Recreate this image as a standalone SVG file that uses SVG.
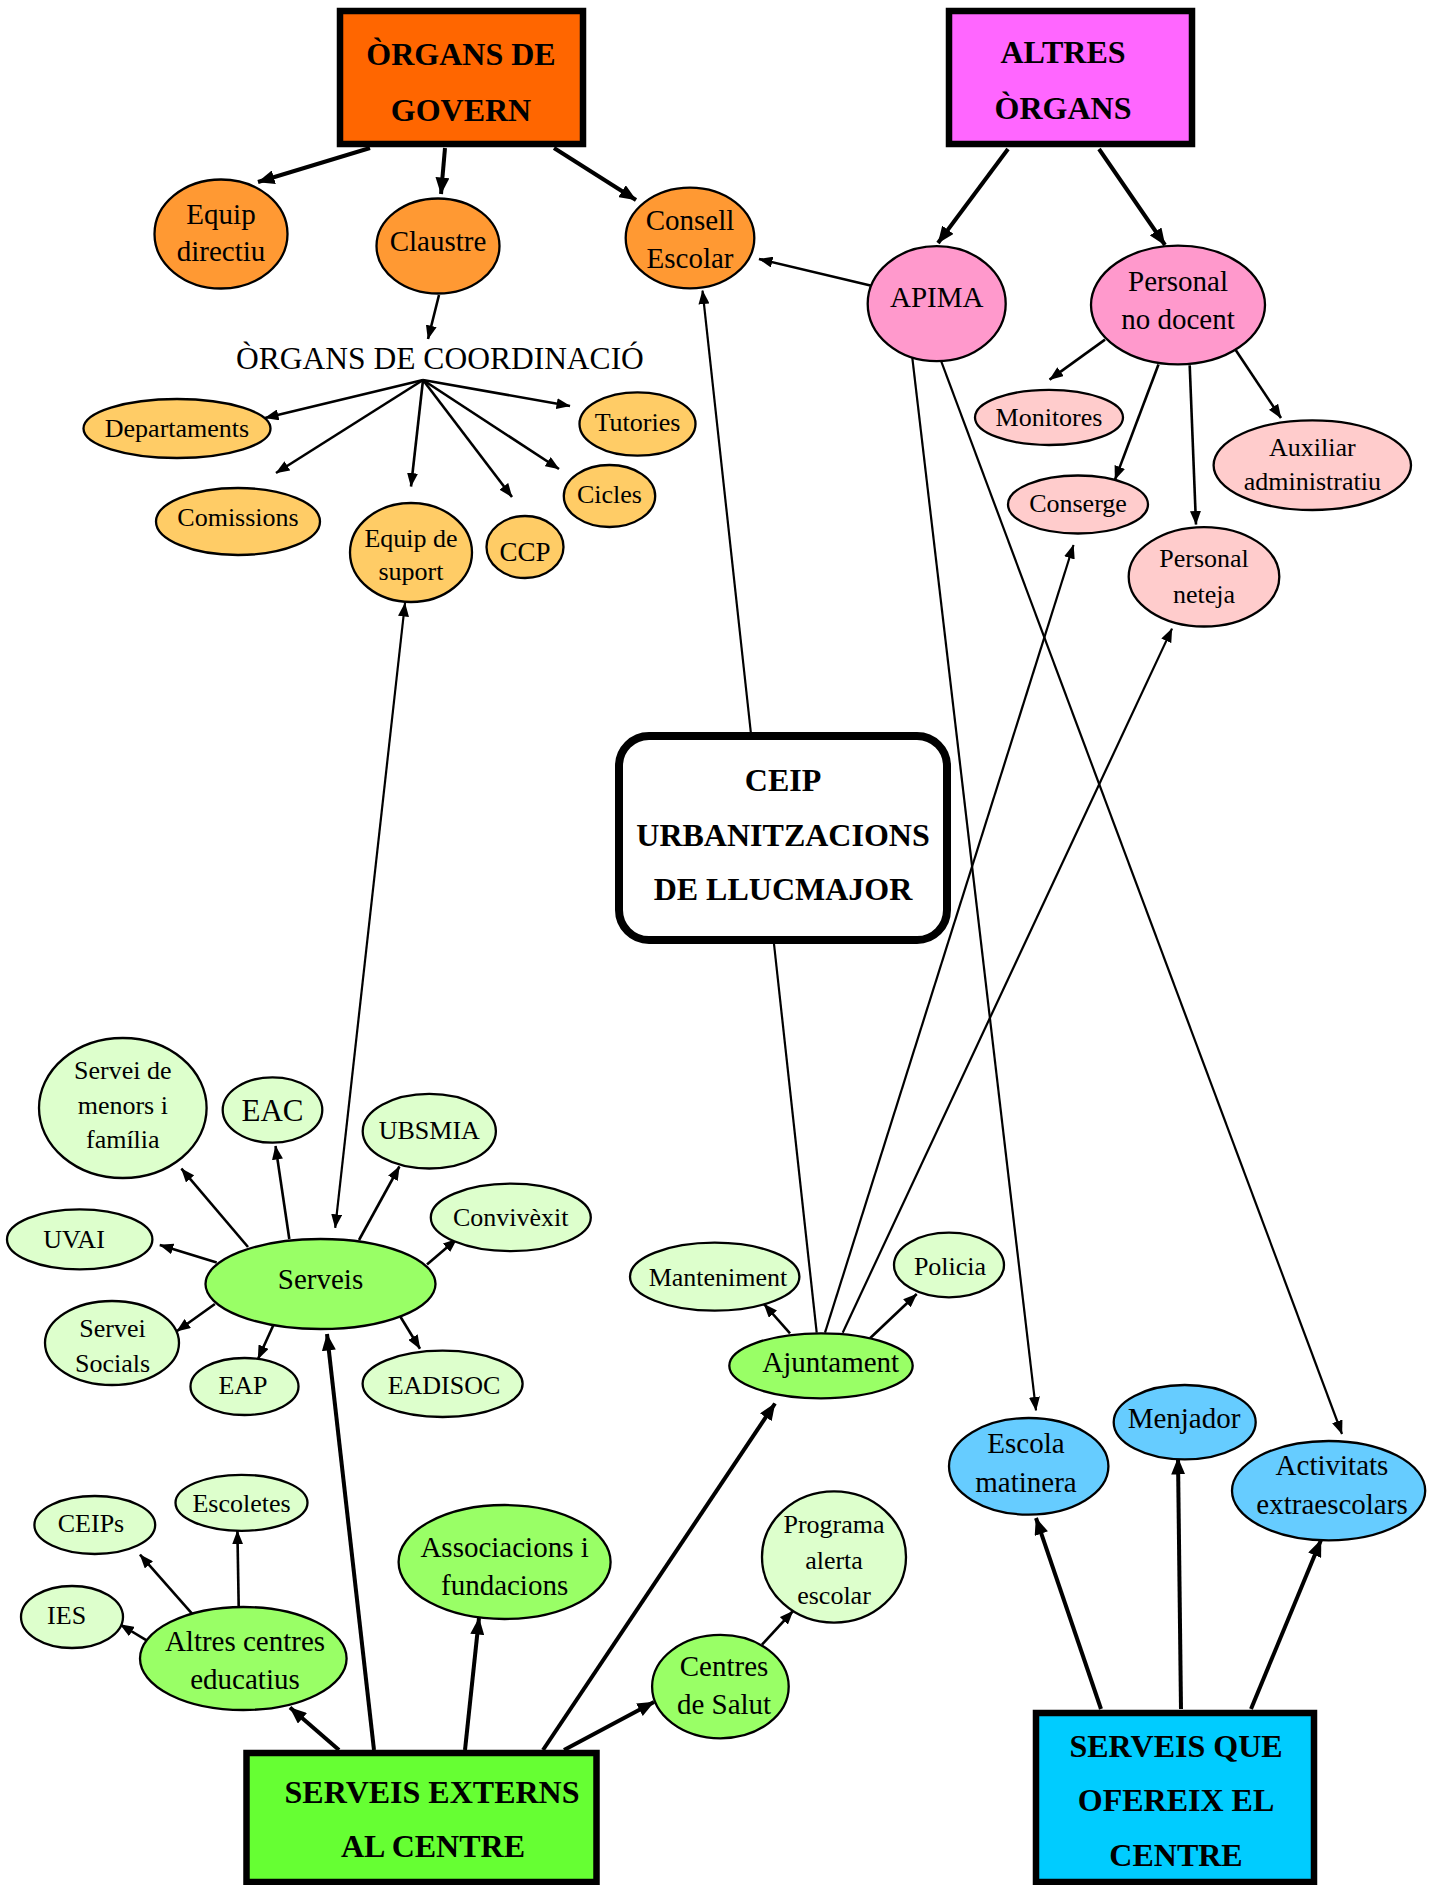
<svg xmlns="http://www.w3.org/2000/svg" width="1438" height="1885" viewBox="0 0 1438 1885">
<style>
.t{font-family:"Liberation Serif","Times New Roman",serif;text-anchor:middle;fill:#000}
.b{font-weight:bold;font-size:32px}
.s26{font-size:26px}
.s29{font-size:29px}
.s31{font-size:31px}
.n{stroke:#000;stroke-width:2.3}
.box{stroke:#000;stroke-width:6.5}
.c{stroke:#000;fill:none}
.thick{stroke-width:4}
.med{stroke-width:2.6}
.thin{stroke-width:2.2}
.o1{fill:#FF9933}.o2{fill:#FFCC66}.p1{fill:#FF99CC}.p2{fill:#FFCCCC}
.g1{fill:#99FF66}.g2{fill:#DDFFCC}.bl{fill:#66CCFF}
</style>
<defs>
<marker id="ah" viewBox="0 0 14 11" refX="13.5" refY="5.5" markerWidth="14" markerHeight="11" markerUnits="userSpaceOnUse" orient="auto"><path d="M0,0 L14,5.5 L0,11 z" fill="#000"/></marker>
<marker id="ahL" viewBox="0 0 17 14" refX="16.5" refY="7" markerWidth="17" markerHeight="14" markerUnits="userSpaceOnUse" orient="auto"><path d="M0,0 L17,7 L0,14 z" fill="#000"/></marker>
<marker id="ahS" viewBox="0 0 14 11" refX="13.5" refY="5.5" markerWidth="14" markerHeight="11" markerUnits="userSpaceOnUse" orient="auto-start-reverse"><path d="M0,0 L14,5.5 L0,11 z" fill="#000"/></marker>
</defs>
<rect width="1438" height="1885" fill="#fff"/>
<g id="connectors">
<g class="c thick" marker-end="url(#ahL)">
<line x1="370" y1="148" x2="258" y2="182"/>
<line x1="445" y1="148" x2="441" y2="194"/>
<line x1="554" y1="148" x2="636" y2="200"/>
<line x1="1008" y1="149" x2="938" y2="243"/>
<line x1="1099" y1="149" x2="1165" y2="245"/>
<line x1="339" y1="1750" x2="290" y2="1707.5"/>
<line x1="374" y1="1750" x2="327" y2="1334"/>
<line x1="465" y1="1750" x2="479" y2="1618"/>
<line x1="543" y1="1750" x2="775" y2="1403.5"/>
<line x1="564" y1="1750" x2="654" y2="1702"/>
<line x1="1101" y1="1709" x2="1036" y2="1518"/>
<line x1="1181" y1="1709" x2="1178" y2="1458"/>
<line x1="1251" y1="1709" x2="1321" y2="1540"/>
</g>
<g class="c med" marker-end="url(#ah)">
<line x1="439" y1="295" x2="428" y2="339"/>
<line x1="423" y1="380" x2="265" y2="418"/>
<line x1="423" y1="380" x2="276" y2="473"/>
<line x1="423" y1="380" x2="411" y2="486.5"/>
<line x1="423" y1="380" x2="512" y2="497"/>
<line x1="423" y1="380" x2="559" y2="469"/>
<line x1="423" y1="380" x2="570" y2="406"/>
<line x1="871.5" y1="285.7" x2="759" y2="259"/>
<line x1="1105" y1="339.6" x2="1049.6" y2="379.6"/>
<line x1="1158.5" y1="364.5" x2="1115" y2="479.6"/>
<line x1="1189.7" y1="365.3" x2="1196" y2="524.5"/>
<line x1="1235" y1="349" x2="1281" y2="418"/>
<line x1="248" y1="1247" x2="181.4" y2="1168.6"/>
<line x1="289.3" y1="1239" x2="275.5" y2="1146"/>
<line x1="359" y1="1240" x2="399.4" y2="1166.5"/>
<line x1="427" y1="1264.5" x2="456.8" y2="1239"/>
<line x1="216.7" y1="1262.4" x2="159.8" y2="1245"/>
<line x1="214.9" y1="1304" x2="176.8" y2="1331.3"/>
<line x1="273.2" y1="1325.5" x2="258" y2="1359"/>
<line x1="400.4" y1="1316.7" x2="420" y2="1348.7"/>
<line x1="192" y1="1613.7" x2="140" y2="1554.7"/>
<line x1="238.7" y1="1607" x2="237.4" y2="1530.8"/>
<line x1="147" y1="1640.7" x2="120.3" y2="1624.5"/>
<line x1="790" y1="1333.3" x2="764" y2="1304"/>
<line x1="870" y1="1338.3" x2="916.7" y2="1294"/>
<line x1="762" y1="1644.6" x2="793" y2="1611"/>
</g>
<g class="c thin">
<line x1="751" y1="734" x2="702.5" y2="290.6" marker-end="url(#ah)"/>
<line x1="774" y1="944" x2="816.7" y2="1332.7"/>
<line x1="911.9" y1="354.3" x2="1036" y2="1410.4" marker-end="url(#ah)"/>
<line x1="940.4" y1="359.2" x2="1342" y2="1434" marker-end="url(#ah)"/>
<line x1="825" y1="1332.7" x2="1073.5" y2="545" marker-end="url(#ah)"/>
<line x1="842.7" y1="1332.7" x2="1172" y2="628.6" marker-end="url(#ah)"/>
<line x1="405" y1="603" x2="335.2" y2="1227.8" marker-start="url(#ahS)" marker-end="url(#ah)"/>
</g>
</g>
<g id="organs-govern">
<rect class="box" x="340" y="11" width="243" height="133" fill="#FF6600"/>
<text class="t b" x="461" y="65">ÒRGANS DE</text>
<text class="t b" x="461" y="121">GOVERN</text>
</g>
<g id="altres-organs">
<rect class="box" x="949" y="11" width="243" height="133" fill="#FF66FF"/>
<text class="t b" x="1063" y="63">ALTRES</text>
<text class="t b" x="1063" y="119">ÒRGANS</text>
</g>
<g id="equip-directiu">
<ellipse class="n o1" cx="221" cy="234" rx="66.5" ry="54.5"/>
<text class="t s29" x="221" y="224">Equip</text>
<text class="t s29" x="221" y="261">directiu</text>
</g>
<g id="claustre">
<ellipse class="n o1" cx="438" cy="246" rx="61.5" ry="47.5"/>
<text class="t s29" x="438" y="251">Claustre</text>
</g>
<g id="consell-escolar">
<ellipse class="n o1" cx="690" cy="238" rx="64.3" ry="50.4"/>
<text class="t s29" x="690" y="230">Consell</text>
<text class="t s29" x="690" y="268">Escolar</text>
</g>
<g id="organs-coordinacio">
<text class="t" style="font-size:31.5px" x="440" y="369">ÒRGANS DE COORDINACIÓ</text>
</g>
<g id="departaments">
<ellipse class="n o2" cx="177" cy="428.5" rx="93.5" ry="29.5"/>
<text class="t s26" x="177" y="437">Departaments</text>
</g>
<g id="comissions">
<ellipse class="n o2" cx="238" cy="521.5" rx="82" ry="33.5"/>
<text class="t s26" x="238" y="526">Comissions</text>
</g>
<g id="equip-suport">
<ellipse class="n o2" cx="411" cy="552.5" rx="61" ry="49.5"/>
<text class="t s26" x="411" y="547">Equip de</text>
<text class="t s26" x="411" y="580">suport</text>
</g>
<g id="ccp">
<ellipse class="n o2" cx="525" cy="547" rx="38.5" ry="31"/>
<text class="t" style="font-size:27px" x="525" y="561">CCP</text>
</g>
<g id="cicles">
<ellipse class="n o2" cx="609.5" cy="496" rx="45.7" ry="31"/>
<text class="t s26" x="609.5" y="503">Cicles</text>
</g>
<g id="tutories">
<ellipse class="n o2" cx="637.5" cy="424" rx="58" ry="31.7"/>
<text class="t s26" x="637.5" y="431">Tutories</text>
</g>
<g id="apima">
<ellipse class="n p1" cx="936.7" cy="303.7" rx="69" ry="57.5"/>
<text class="t s29" x="936.7" y="307">APIMA</text>
</g>
<g id="personal-no-docent">
<ellipse class="n p1" cx="1178" cy="305" rx="87" ry="59.4"/>
<text class="t s29" x="1178" y="291">Personal</text>
<text class="t s29" x="1178" y="329">no docent</text>
</g>
<g id="monitores">
<ellipse class="n p2" cx="1049" cy="417.4" rx="74" ry="27.6"/>
<text class="t s26" x="1049" y="426">Monitores</text>
</g>
<g id="conserge">
<ellipse class="n p2" cx="1078" cy="504.5" rx="70" ry="29"/>
<text class="t s26" x="1078" y="512">Conserge</text>
</g>
<g id="auxiliar-administratiu">
<ellipse class="n p2" cx="1312.3" cy="465.2" rx="98.7" ry="44.8"/>
<text class="t s26" x="1312.3" y="456">Auxiliar</text>
<text class="t s26" x="1312.3" y="490">administratiu</text>
</g>
<g id="personal-neteja">
<ellipse class="n p2" cx="1204" cy="576.8" rx="75.3" ry="49.7"/>
<text class="t s26" x="1204" y="567">Personal</text>
<text class="t s26" x="1204" y="603">neteja</text>
</g>
<g id="ceip">
<rect x="619" y="736" width="328" height="204" rx="30" fill="#fff" stroke="#000" stroke-width="8"/>
<text class="t b" x="783" y="791">CEIP</text>
<text class="t b" x="783" y="846">URBANITZACIONS</text>
<text class="t b" x="783" y="900">DE LLUCMAJOR</text>
</g>
<g id="serveis">
<ellipse class="n g1" cx="320.5" cy="1284" rx="115" ry="45"/>
<text class="t s29" x="320.5" y="1289">Serveis</text>
</g>
<g id="servei-menors">
<ellipse class="n g2" cx="122.8" cy="1108" rx="83.8" ry="70"/>
<text class="t s26" x="122.8" y="1079">Servei de</text>
<text class="t s26" x="122.8" y="1113.5">menors i</text>
<text class="t s26" x="122.8" y="1148">família</text>
</g>
<g id="eac">
<ellipse class="n g2" cx="272.5" cy="1110" rx="49.8" ry="32.7"/>
<text class="t s31" x="272.5" y="1121">EAC</text>
</g>
<g id="ubsmia">
<ellipse class="n g2" cx="429.3" cy="1131.2" rx="66.6" ry="37.3"/>
<text class="t s26" x="429.3" y="1139">UBSMIA</text>
</g>
<g id="convivexit">
<ellipse class="n g2" cx="510.8" cy="1217.4" rx="80" ry="33.7"/>
<text class="t s26" x="510.8" y="1226">Convivèxit</text>
</g>
<g id="uvai">
<ellipse class="n g2" cx="79.7" cy="1239.4" rx="72.7" ry="30"/>
<text class="t s26" x="74" y="1248">UVAI</text>
</g>
<g id="servei-socials">
<ellipse class="n g2" cx="112" cy="1343" rx="67" ry="42"/>
<text class="t s26" x="112.5" y="1337">Servei</text>
<text class="t s26" x="112.5" y="1372">Socials</text>
</g>
<g id="eap">
<ellipse class="n g2" cx="244.5" cy="1386.5" rx="54" ry="28.5"/>
<text class="t s26" x="243" y="1394">EAP</text>
</g>
<g id="eadisoc">
<ellipse class="n g2" cx="442.6" cy="1383.8" rx="80" ry="33.2"/>
<text class="t s26" x="444" y="1394">EADISOC</text>
</g>
<g id="manteniment">
<ellipse class="n g2" cx="714.7" cy="1276.7" rx="84.7" ry="34"/>
<text class="t s26" x="718" y="1286">Manteniment</text>
</g>
<g id="policia">
<ellipse class="n g2" cx="949" cy="1265" rx="55" ry="32.3"/>
<text class="t s26" x="950" y="1275">Policia</text>
</g>
<g id="ajuntament">
<ellipse class="n g1" cx="821" cy="1365.8" rx="91.7" ry="32.5"/>
<text class="t s29" x="830.7" y="1372">Ajuntament</text>
</g>
<g id="ceips">
<ellipse class="n g2" cx="94.8" cy="1525" rx="60.4" ry="29"/>
<text class="t s26" x="91" y="1531.5">CEIPs</text>
</g>
<g id="escoletes">
<ellipse class="n g2" cx="241.5" cy="1502.8" rx="66" ry="28"/>
<text class="t s26" x="241.5" y="1511.5">Escoletes</text>
</g>
<g id="ies">
<ellipse class="n g2" cx="72" cy="1617" rx="51" ry="31"/>
<text class="t s26" x="66.6" y="1624">IES</text>
</g>
<g id="altres-centres">
<ellipse class="n g1" cx="243.3" cy="1658.5" rx="103.3" ry="51.5"/>
<text class="t s29" x="245" y="1651">Altres centres</text>
<text class="t s29" x="245" y="1689">educatius</text>
</g>
<g id="associacions">
<ellipse class="n g1" cx="504.6" cy="1562" rx="106" ry="57"/>
<text class="t s29" x="504.6" y="1557">Associacions i</text>
<text class="t s29" x="504.6" y="1594.5">fundacions</text>
</g>
<g id="centres-salut">
<ellipse class="n g1" cx="720.4" cy="1686.6" rx="68.3" ry="51.7"/>
<text class="t s29" x="724" y="1675.5">Centres</text>
<text class="t s29" x="724" y="1714">de Salut</text>
</g>
<g id="programa-alerta">
<ellipse class="n g2" cx="834" cy="1557" rx="72" ry="65.6"/>
<text class="t s26" x="834" y="1533">Programa</text>
<text class="t s26" x="834" y="1568.5">alerta</text>
<text class="t s26" x="834" y="1603.5">escolar</text>
</g>
<g id="escola-matinera">
<ellipse class="n bl" cx="1028.7" cy="1466.3" rx="79.7" ry="48.3"/>
<text class="t s29" x="1026" y="1453">Escola</text>
<text class="t s29" x="1026" y="1491.5">matinera</text>
</g>
<g id="menjador">
<ellipse class="n bl" cx="1184.7" cy="1422.2" rx="71" ry="37.2"/>
<text class="t s29" x="1184" y="1427.5">Menjador</text>
</g>
<g id="activitats">
<ellipse class="n bl" cx="1328.6" cy="1490.7" rx="96.6" ry="49.7"/>
<text class="t s29" x="1332" y="1475">Activitats</text>
<text class="t s29" x="1332" y="1513.5">extraescolars</text>
</g>
<g id="serveis-externs">
<rect class="box" x="246.5" y="1753" width="350" height="129" fill="#66FF33"/>
<text class="t b" x="432" y="1803">SERVEIS EXTERNS</text>
<text class="t b" x="433" y="1857">AL CENTRE</text>
</g>
<g id="serveis-centre">
<rect class="box" x="1036" y="1713" width="278" height="169" fill="#00CCFF"/>
<text class="t b" x="1176" y="1756.5">SERVEIS QUE</text>
<text class="t b" x="1176" y="1810.5">OFEREIX EL</text>
<text class="t b" x="1176" y="1866">CENTRE</text>
</g>
</svg>
